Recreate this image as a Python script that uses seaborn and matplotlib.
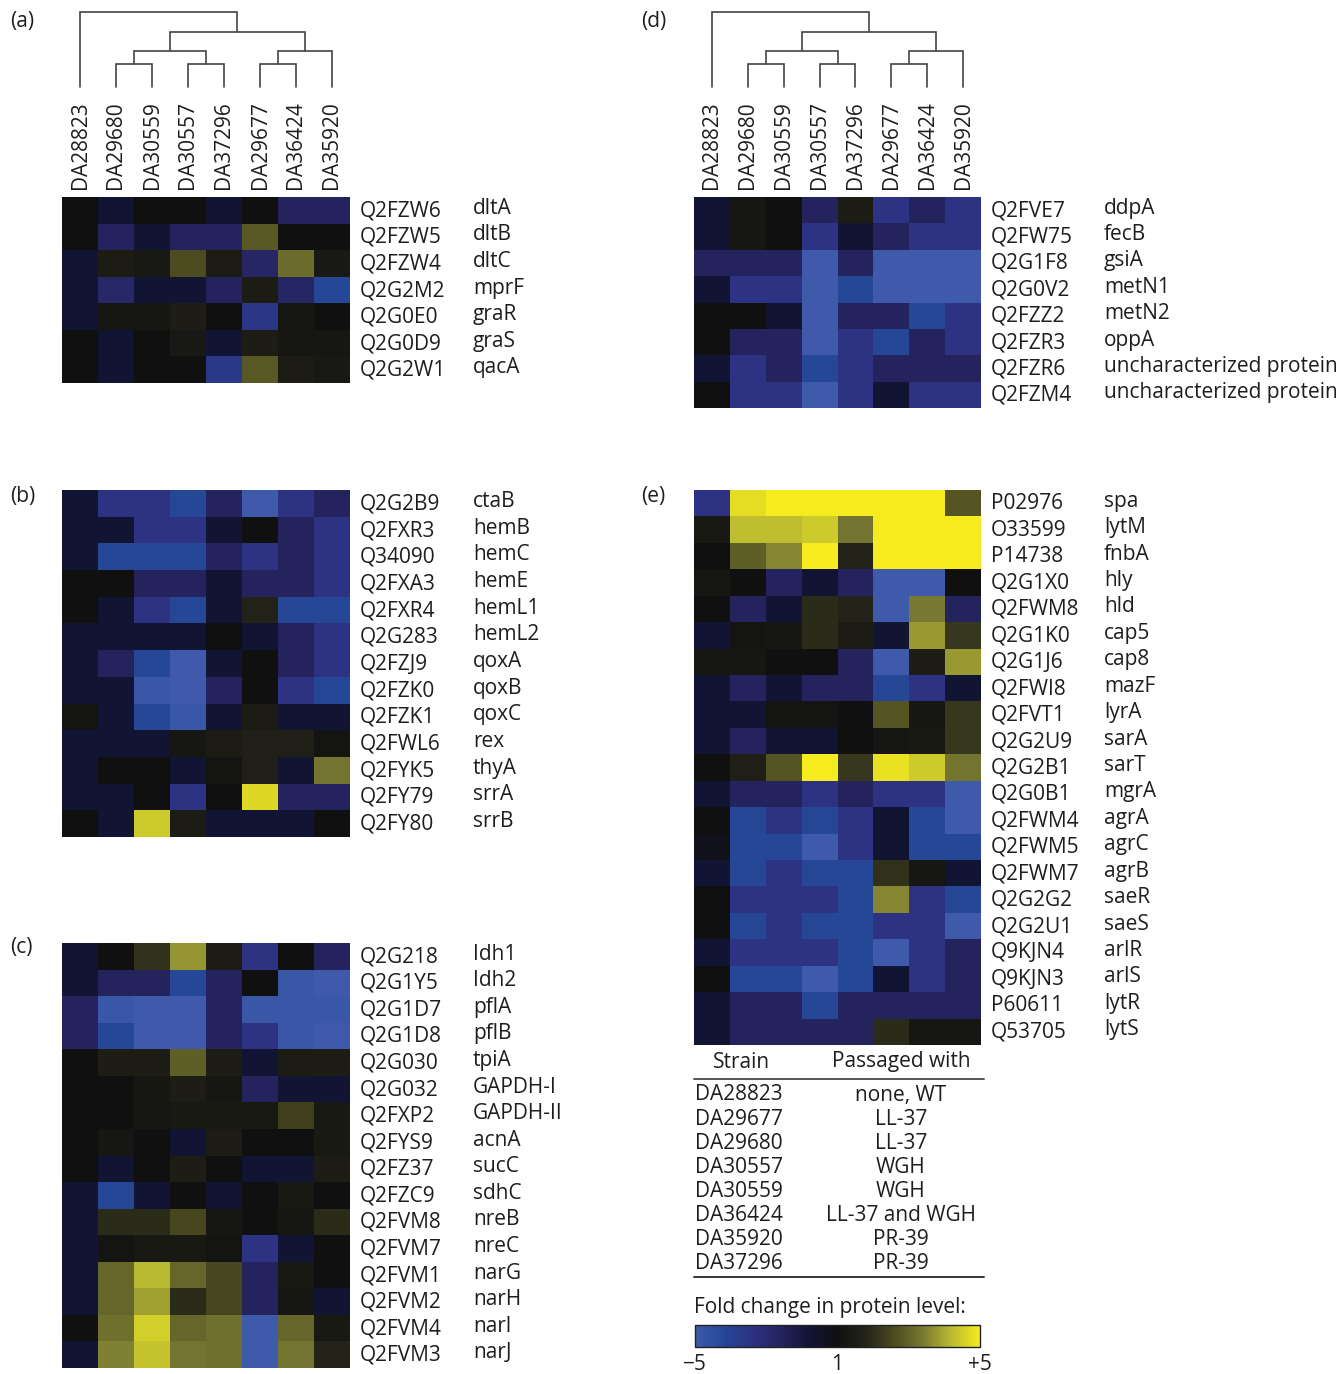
import numpy as np
import pandas as pd
import matplotlib
matplotlib.use("Agg")
import matplotlib.pyplot as plt
import seaborn as sns
from matplotlib.colors import LinearSegmentedColormap
from matplotlib.lines import Line2D
import matplotlib.transforms as mtrans

# ---------------- data ----------------
strains = ["DA28823", "DA29680", "DA30559", "DA30557", "DA37296", "DA29677", "DA36424", "DA35920"]

a_ids = ["Q2FZW6", "Q2FZW5", "Q2FZW4", "Q2G2M2", "Q2G0E0", "Q2G0D9", "Q2G2W1"]
a_genes = ["dltA", "dltB", "dltC", "mprF", "graR", "graS", "qacA"]
a_vals = [
    [0, -1, 0, 0, -1, 0, -2, -2],
    [0, -2, -1, -2, -2, 2.3, 0, 0],
    [-1, 0.6, 0.4, 2.0, 0.6, -2.2, 2.7, 0.4],
    [-1, -2.3, -1, -1, -2, 0.6, -2.2, -4],
    [-1, 0.3, 0.3, 0.7, 0, -3.2, 0.3, 0],
    [0, -1, 0, 0.4, -1, 0.7, 0.3, 0.3],
    [0, -1, 0, 0, -3.3, 2.3, 0.6, 0.4],
]

b_ids = ["Q2G2B9", "Q2FXR3", "Q34090", "Q2FXA3", "Q2FXR4", "Q2G283", "Q2FZJ9",
         "Q2FZK0", "Q2FZK1", "Q2FWL6", "Q2FYK5", "Q2FY79", "Q2FY80"]
b_genes = ["ctaB", "hemB", "hemC", "hemE", "hemL1", "hemL2", "qoxA", "qoxB", "qoxC",
           "rex", "thyA", "srrA", "srrB"]
b_vals = [
    [-1, -3, -3, -4, -2, -5, -3, -2],
    [-1, -1, -3, -3, -1, 0, -2, -3],
    [-1, -4, -4, -4, -2, -3, -2, -3],
    [0, 0, -2, -2, -1, -2, -2, -3],
    [0, -1, -3, -4, -1, 0.9, -4, -4],
    [-1, -1, -1, -1, 0, -1, -2, -3],
    [-1, -2, -4, -5, -1, 0, -2, -3],
    [-1, -1, -4.8, -5, -2, 0, -3, -4],
    [0.2, -1, -4, -4.8, -1, 0.6, -1, -1],
    [-1, -1, -1, 0.3, 0.6, 0.8, 0.8, 0.2],
    [-1, 0, 0, -1, 0.2, 0.8, -1, 2.9],
    [-1, -1, 0, -3, 0, 4.6, -2, -2],
    [0, -1, 4.3, 0.6, -1, -1, -1, 0],
]

c_ids = ["Q2G218", "Q2G1Y5", "Q2G1D7", "Q2G1D8", "Q2G030", "Q2G032", "Q2FXP2", "Q2FYS9",
         "Q2FZ37", "Q2FZC9", "Q2FVM8", "Q2FVM7", "Q2FVM1", "Q2FVM2", "Q2FVM4", "Q2FVM3"]
c_genes = ["Idh1", "Idh2", "pflA", "pflB", "tpiA", "GAPDH-I", "GAPDH-II", "acnA", "sucC",
           "sdhC", "nreB", "nreC", "narG", "narH", "narl", "narJ"]
c_vals = [
    [-1, 0, 1.3, 3.4, 0.6, -3, 0, -2],
    [-1, -2, -2, -4, -2, 0, -4.8, -5],
    [-2, -4.8, -5, -5, -2, -4.8, -4.8, -4.8],
    [-2, -4, -5, -5, -2, -3, -4.8, -5],
    [0, 0.7, 0.7, 2.4, 0.7, -1, 0.6, 0.7],
    [0, 0, 0.3, 0.7, 0.3, -2, -1, -1],
    [0, 0, 0.3, 0.5, 0.5, 0.5, 1.7, 0.5],
    [0, 0.3, 0, -1, 0.7, 0, 0, 0.5],
    [0, -1, 0, 0.7, 0, -1, -1, 0.7],
    [-1, -4, -1, 0, -1, 0, 0.5, 0],
    [-1, 1.2, 1.2, 1.9, 0.3, 0, 0.3, 1.2],
    [-1, 0.2, 0.5, 0.5, 0.2, -3, -1, 0],
    [-1, 2.6, 4.0, 2.6, 1.9, -2, 0.5, 0],
    [-1, 2.6, 3.6, 1.2, 1.9, -2, 0.3, -1],
    [0, 2.8, 4.4, 2.6, 2.8, -5, 2.6, 0.5],
    [-1, 3.1, 4.2, 2.9, 2.8, -5, 2.9, 1.0],
]

d_ids = ["Q2FVE7", "Q2FW75", "Q2G1F8", "Q2G0V2", "Q2FZZ2", "Q2FZR3", "Q2FZR6", "Q2FZM4"]
d_genes = ["ddpA", "fecB", "gsiA", "metN1", "metN2", "oppA",
           "uncharacterized protein", "uncharacterized protein"]
d_vals = [
    [-1, 0.3, 0, -2, 0.6, -3, -2, -3],
    [-1, 0.3, 0, -3, -1, -2, -3, -3],
    [-2, -2, -2, -5, -2, -5, -5, -5],
    [-1, -3, -3, -5, -4, -5, -5, -5],
    [0, 0, -1, -5, -2, -2, -4, -3],
    [0, -2, -2, -5, -3, -4, -2, -3],
    [-1, -3, -2, -4, -3, -2, -2, -2],
    [0, -3, -3, -5, -3, -1, -3, -3],
]

e_ids = ["P02976", "O33599", "P14738", "Q2G1X0", "Q2FWM8", "Q2G1K0", "Q2G1J6", "Q2FWI8",
         "Q2FVT1", "Q2G2U9", "Q2G2B1", "Q2G0B1", "Q2FWM4", "Q2FWM5", "Q2FWM7", "Q2G2G2",
         "Q2G2U1", "Q9KJN4", "Q9KJN3", "P60611", "Q53705"]
e_genes = ["spa", "lytM", "fnbA", "hly", "hld", "cap5", "cap8", "mazF", "lyrA", "sarA",
           "sarT", "mgrA", "agrA", "agrC", "agrB", "saeR", "saeS", "arlR", "arlS", "lytR", "lytS"]
e_vals = [
    [-3, 4.7, 5, 5, 5, 5, 5, 2.2],
    [0.5, 4.1, 4.1, 4.3, 2.9, 5, 5, 5],
    [0, 2.4, 3.2, 5, 0.9, 5, 5, 5],
    [0.3, 0, -2, -1, -2, -5, -5, 0],
    [0, -2, -1, 1.2, 1.0, -5, 3.0, -2],
    [-1, 0.2, 0.3, 1.2, 0.6, -1, 3.5, 1.5],
    [0.3, 0.3, 0, 0, -2, -5, 0.7, 3.5],
    [-1, -2, -1, -2, -2, -4, -3, -1],
    [-1, -1, 0.2, 0.2, 0, 2.2, 0.3, 1.5],
    [-1, -2, -1, -1, 0, 0.3, 0.5, 1.5],
    [0, 0.8, 2.2, 5, 1.5, 4.8, 4.3, 2.9],
    [-1, -2, -2, -3, -2, -3, -3, -5],
    [0, -4, -3, -4, -3, -1, -4, -5],
    [-0.3, -4, -4, -5, -3, -1, -4, -4],
    [-1, -4, -3, -4, -4, 1.3, 0.3, -1],
    [0, -3, -3, -3, -4, 3.2, -3, -4],
    [0, -4, -3, -4, -4, -3, -3, -5],
    [-1, -3, -3, -3, -4, -5, -3, -2],
    [0, -4, -4, -5, -4, -1, -3, -2],
    [-1, -2, -2, -4, -2, -2, -2, -2],
    [-1, -2, -2, -2, -2, 1.2, 0.3, 0.3],
]

# dendrogram (leaf order as displayed); merges: (child1, child2, height); new nodes numbered from 8
dendro_merges = [(1, 2, 0.307), (3, 4, 0.307), (5, 6, 0.307),
                 (8, 9, 0.48), (10, 7, 0.48), (11, 12, 0.733), (0, 13, 1.0)]

table_strains = ["DA28823", "DA29677", "DA29680", "DA30557", "DA30559", "DA36424", "DA35920", "DA37296"]
table_passaged = ["none, WT", "LL-37", "LL-37", "WGH", "WGH", "LL-37 and WGH", "PR-39", "PR-39"]

cbar_ticks = [-5, 0, 5]
cbar_ticklabels = ["\u22125", "1", "+5"]

# ---------------- style ----------------
sns.set_style("white")
plt.rcParams["font.family"] = ["Open Sans", "DejaVu Sans"]
TXT = "#1e1e1e"
FS = 15

stops = [(-5, (63, 90, 170)), (-4, (37, 70, 150)), (-3, (45, 50, 130)), (-2, (37, 35, 93)),
         (-1, (18, 20, 52)), (0, (16, 16, 16)), (1, (35, 35, 25)), (2, (75, 75, 32)),
         (3, (120, 120, 50)), (4, (185, 185, 50)), (5, (245, 235, 30))]
cmap = LinearSegmentedColormap.from_list(
    "bky", [((v + 5) / 10, tuple(c / 255 for c in rgb)) for v, rgb in stops])

W, H = 1344, 1374
fig = plt.figure(figsize=(W / 100, H / 100), dpi=100)
UP = mtrans.ScaledTranslation(0, 2 / 100, fig.dpi_scale_trans)


def ax_px(x0, y0, x1, y1):
    return fig.add_axes([x0 / W, 1 - y1 / H, (x1 - x0) / W, (y1 - y0) / H])


def fx(x):
    return x / W


def fy(y):
    return 1 - y / H


def heat(x0, y0, x1, y1, ids, genes, vals, show_cols):
    ax = ax_px(x0, y0, x1, y1)
    df = pd.DataFrame(vals, index=ids, columns=strains)
    sns.heatmap(df, ax=ax, cmap=cmap, vmin=-5, vmax=5, cbar=False,
                xticklabels=show_cols, yticklabels=True)
    ax.yaxis.tick_right()
    ax.set_yticklabels(ids, rotation=0, ha="left", fontsize=FS, color=TXT)
    ax.tick_params(axis="y", length=0, pad=7)
    for lab in ax.get_yticklabels():
        lab.set_transform(lab.get_transform() + UP)
    if show_cols:
        ax.xaxis.tick_top()
        ax.set_xticklabels(strains, rotation=90, fontsize=FS, color=TXT, va="bottom")
        ax.tick_params(axis="x", length=0, pad=6)
    else:
        ax.set_xticks([])
    ax.set_xlabel("")
    ax.set_ylabel("")
    tr = mtrans.blended_transform_factory(ax.transAxes, ax.transData) + UP
    offs = 1 + 123 / (x1 - x0)
    for i, g in enumerate(genes):
        ax.text(offs, i + 0.5, g, transform=tr, ha="left", va="center",
                fontsize=FS, color=TXT)
    return ax


def dendro(x0, y0, x1, y1):
    ax = ax_px(x0, y0, x1, y1)
    ax.set_xlim(0, len(strains))
    ax.set_ylim(0, 1)
    ax.axis("off")
    pos = {i: (i + 0.5, 0.0) for i in range(len(strains))}
    nid = len(strains)
    for c1, c2, h in dendro_merges:
        xa, ha_ = pos[c1]
        xb, hb = pos[c2]
        ax.plot([xa, xa, xb, xb], [ha_, h, h, hb], color="#444444", lw=1.2,
                solid_joinstyle="miter", clip_on=False)
        pos[nid] = ((xa + xb) / 2, h)
        nid += 1


# panels
heat(62, 197, 350, 383, a_ids, a_genes, a_vals, True)
dendro(62, 12, 350, 87)
heat(62, 490, 350, 837, b_ids, b_genes, b_vals, False)
heat(62, 943, 350, 1368, c_ids, c_genes, c_vals, False)
heat(694, 197, 981, 408, d_ids, d_genes, d_vals, True)
dendro(694, 12, 981, 87)
heat(694, 490, 981, 1045, e_ids, e_genes, e_vals, False)

for lab, x, y in [("(a)", 10, 22), ("(b)", 10, 497), ("(c)", 10, 948),
                  ("(d)", 641, 22), ("(e)", 641, 497)]:
    fig.text(fx(x), fy(y), lab, ha="left", va="center", fontsize=FS, color=TXT)

# table
fig.text(fx(742), fy(1062), "Strain", ha="center", va="center", fontsize=FS, color=TXT)
fig.text(fx(901), fy(1062), "Passaged with", ha="center", va="center", fontsize=FS, color=TXT)
fig.add_artist(Line2D([fx(694), fx(984)], [fy(1079), fy(1079)], color="#555555", lw=1.4))
for i, (s, p) in enumerate(zip(table_strains, table_passaged)):
    yy = 1095 + i * 24.1
    fig.text(fx(695), fy(yy), s, ha="left", va="center", fontsize=FS, color=TXT)
    fig.text(fx(901), fy(yy), p, ha="center", va="center", fontsize=FS, color=TXT)
fig.add_artist(Line2D([fx(694), fx(984)], [fy(1277), fy(1277)], color="#333333", lw=1.4))

fig.text(fx(694), fy(1308), "Fold change in protein level:", ha="left", va="center",
         fontsize=FS, color=TXT)
cax = ax_px(695, 1325, 980, 1347)
sm = matplotlib.cm.ScalarMappable(cmap=cmap, norm=matplotlib.colors.Normalize(-5, 5))
cb = fig.colorbar(sm, cax=cax, orientation="horizontal")
cb.set_ticks(cbar_ticks)
cb.set_ticklabels(cbar_ticklabels)
cb.ax.tick_params(length=0, labelsize=FS, colors=TXT, pad=5)
cb.outline.set_linewidth(1.0)
cb.outline.set_edgecolor("#222222")

fig.savefig("out.png", dpi=100)
